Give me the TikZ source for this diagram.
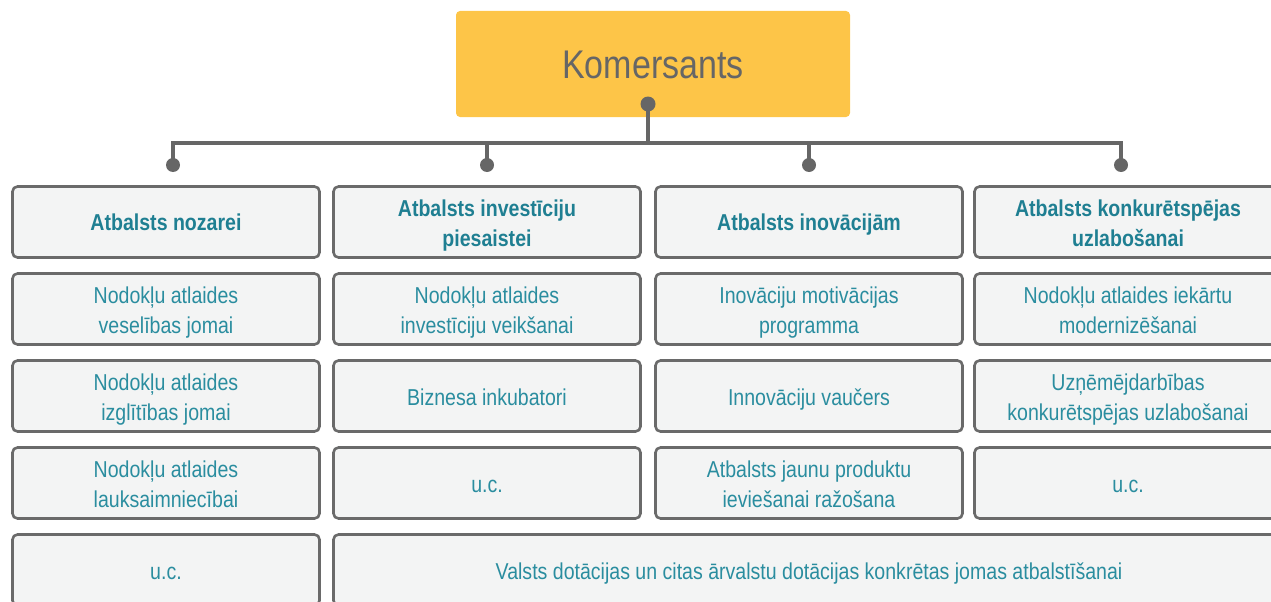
\documentclass[tikz,border=0pt]{standalone}
\usepackage{fontspec}
\setmainfont{Liberation Sans}[FakeStretch=0.85]
\definecolor{ink}{HTML}{666666}
\definecolor{frame}{HTML}{6A6A6A}
\definecolor{cellfill}{HTML}{F3F4F4}
\definecolor{teal}{HTML}{2A8D9F}
\definecolor{tealdark}{HTML}{1F7F92}
\definecolor{gold}{HTML}{FDC548}
\newcommand\tx[2][3pt]{\raisebox{-#1}[\height][\depth]{\begin{tabular}{@{}c@{}}#2\end{tabular}}}
\begin{document}
\begin{tikzpicture}[x=1pt,y=1pt,
  cell/.style={draw=frame, line width=2.6pt, fill=cellfill, rounded corners=5pt,
    minimum width=307pt, minimum height=71pt, inner sep=0pt,
    text=teal, font=\fontsize{23}{30}\selectfont},
  head/.style={cell, text=tealdark, font=\fontsize{23}{30}\selectfont\bfseries},
  wide/.style={cell, minimum width=951pt},
  link/.style={draw=ink, line width=4pt},
  dot/.style={fill=ink}]
\useasboundingbox (0,0) rectangle (1271,-602);
\clip (0,0) rectangle (1271,-602);
% top box
\node[fill=gold, rounded corners=4pt, minimum width=394pt, minimum height=106pt, inner sep=0pt,
  text=ink, font=\fontsize{40}{52}\selectfont] (top) at (653,-64) {\tx[4pt]{Komersants}};
\coordinate (kd) at (648,-104);
\coordinate (d1) at (173,-165);
\coordinate (d2) at (487,-165);
\coordinate (d3) at (809,-165);
\coordinate (d4) at (1121,-165);
\foreach \d in {d1,d2,d3,d4}{
  \draw[link] (kd) -- ++(0,-39) -| (\d);
  \fill[dot] (\d) circle (7pt);
}
\fill[dot] (kd) circle (7.5pt);
% headers
\node[head] (h1) at (166,-222) {\tx[2pt]{Atbalsts nozarei}};
\node[head] (h2) at (487,-222) {\tx{Atbalsts investīciju\\piesaistei}};
\node[head] (h3) at (809,-222) {\tx[2pt]{Atbalsts inovācijām}};
\node[head] (h4) at (1128,-222) {\tx{Atbalsts konkurētspējas\\uzlabošanai}};
% row 2
\node[cell] (a2) at (166,-309) {\tx{Nodokļu atlaides\\veselības jomai}};
\node[cell] (b2) at (487,-309) {\tx{Nodokļu atlaides\\investīciju veikšanai}};
\node[cell] (c2) at (809,-309) {\tx{Inovāciju motivācijas\\programma}};
\node[cell] (e2) at (1128,-309) {\tx{Nodokļu atlaides iekārtu\\modernizēšanai}};
% row 3
\node[cell] (a3) at (166,-396) {\tx{Nodokļu atlaides\\izglītības jomai}};
\node[cell] (b3) at (487,-396) {\tx{Biznesa inkubatori}};
\node[cell] (c3) at (809,-396) {\tx{Innovāciju vaučers}};
\node[cell] (e3) at (1128,-396) {\tx{Uzņēmējdarbības\\konkurētspējas uzlabošanai}};
% row 4
\node[cell] (a4) at (166,-483) {\tx{Nodokļu atlaides\\lauksaimniecībai}};
\node[cell] (b4) at (487,-483) {\tx{u.c.}};
\node[cell] (c4) at (809,-483) {\tx{Atbalsts jaunu produktu\\ieviešanai ražošana}};
\node[cell] (e4) at (1128,-483) {\tx{u.c.}};
% row 5
\node[cell] (a5) at (166,-570) {\tx{u.c.}};
\node[wide] (w5) at (809,-570) {\tx{Valsts dotācijas un citas ārvalstu dotācijas konkrētas jomas atbalstīšanai}};
\end{tikzpicture}
\end{document}
